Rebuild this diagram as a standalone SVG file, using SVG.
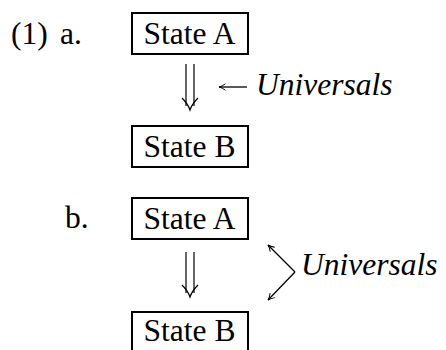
<svg xmlns="http://www.w3.org/2000/svg" width="446" height="350" viewBox="0 0 446 350">
<defs>
<style>
.t{font-family:'Liberation Serif', 'Times New Roman', Times, serif;font-size:31.5px;fill:#000}
.it{font-style:italic}
.box{fill:#fff;stroke:#000;stroke-width:2}
.ln{fill:none;stroke:#000;stroke-width:1.2}
.thin{fill:none;stroke:#000;stroke-width:1.3}
</style>
<marker id="ah" viewBox="0 0 10 10" refX="9" refY="5" markerWidth="8" markerHeight="8" markerUnits="userSpaceOnUse" orient="auto">
<path d="M1,1 Q5,4 9,5 Q5,6 1,9" fill="none" stroke="#000" stroke-width="1.2"/>
</marker>
</defs>
<rect width="446" height="350" fill="#fff"/>
<text class="t" x="11" y="44">(1)</text>
<text class="t" x="60" y="44">a.</text>
<text class="t" x="65" y="228">b.</text>
<g id="a-stateA">
<rect class="box" x="132" y="13" width="116" height="41"/>
<text class="t" x="189.5" y="44" text-anchor="middle">State A</text>
</g>
<g id="a-stateB">
<rect class="box" x="132" y="126" width="116" height="41"/>
<text class="t" x="189.5" y="157" text-anchor="middle">State B</text>
</g>
<g id="b-stateA">
<rect class="box" x="132" y="198" width="116" height="41"/>
<text class="t" x="189.5" y="229" text-anchor="middle">State A</text>
</g>
<g id="b-stateB">
<rect class="box" x="132" y="312" width="116" height="41"/>
<text class="t" x="189.5" y="341" text-anchor="middle">State B</text>
</g>
<g id="a-universals">
<text class="t it" x="256" y="95">Universals</text>
</g>
<g id="b-universals">
<text class="t it" x="301" y="275">Universals</text>
</g>
<g id="connectors">
<path class="ln" d="M186,64 V106 M194,64 V106"/>
<path class="ln" d="M182,98 Q188,104 190,110 Q192,104 198,98"/>
<path class="ln" d="M186,252 V293 M194,252 V293"/>
<path class="ln" d="M182,285 Q188,291 190,297 Q192,291 198,285"/>
<path class="thin" d="M247,87 H219" marker-end="url(#ah)"/>
<path class="thin" d="M295,272 L268,245" marker-end="url(#ah)"/>
<path class="thin" d="M295,272 L268,300" marker-end="url(#ah)"/>
</g>
</svg>
